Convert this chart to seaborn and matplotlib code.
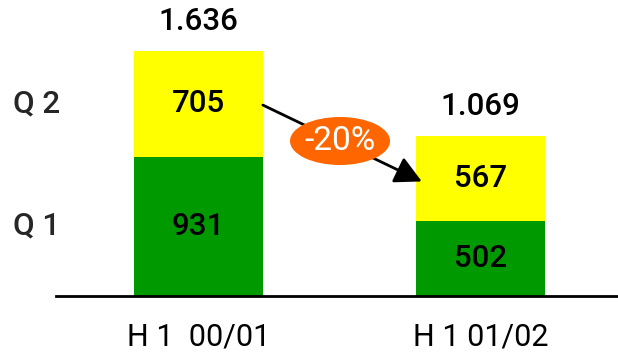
import matplotlib
matplotlib.use("Agg")
import matplotlib.pyplot as plt
from matplotlib.patches import Ellipse
import seaborn as sns
import pandas as pd

categories = ["H 1  00/01", "H 1 01/02"]
q1 = [931, 502]
q2 = [705, 567]
series_labels = ["Q 1", "Q 2"]
change_label = "-20%"

totals = [a + b for a, b in zip(q1, q2)]
df = pd.DataFrame({"period": categories, "q1": q1, "q2": q2, "total": totals})

sns.set_theme(style="white")
plt.rcParams["font.family"] = ["Roboto", "DejaVu Sans"]

YELLOW = "#FFFF00"
GREEN = "#009900"
ORANGE = "#FF6600"

fig = plt.figure(figsize=(6.18, 3.52), dpi=100)
ax = fig.add_axes([56 / 618, (352 - 296) / 352, 562 / 618, 296 / 352])

bw = 0.457
sns.barplot(data=df, x="period", y="total", color=YELLOW, saturation=1,
            width=bw, linewidth=0, ax=ax)
sns.barplot(data=df, x="period", y="q1", color=GREEN, saturation=1,
            width=bw, linewidth=0, ax=ax)

scale = 245 / 1636.0
ax.set_xlim(-0.505, 1.4876)
ax.set_ylim(0, 296 / scale)

for s in ["top", "right", "left"]:
    ax.spines[s].set_visible(False)
ax.spines["bottom"].set_linewidth(2)
ax.spines["bottom"].set_color("black")
ax.set_yticks([])
ax.set_xlabel("")
ax.set_ylabel("")
ax.tick_params(axis="x", length=0, pad=19, labelsize=22, colors="black")

fs = 22.5
wt = "medium"
for i, (a, b, t) in enumerate(zip(q1, q2, totals)):
    ax.text(i, a / 2, f"{a}", ha="center", va="center", fontsize=fs,
            fontweight=wt, color="black")
    ax.text(i, a + b / 2, f"{b}", ha="center", va="center", fontsize=fs,
            fontweight=wt, color="black")
    ax.annotate(f"{t:,}".replace(",", "."), xy=(i, t), xytext=(0, 21),
                textcoords="offset points", ha="center", va="center",
                fontsize=fs, fontweight=wt, color="black",
                annotation_clip=False)

# Q labels aligned with first bar's segments
ax.text(-0.573, q1[0] / 2, series_labels[0], ha="center", va="center",
        fontsize=fs, fontweight=wt, clip_on=False)
ax.text(-0.573, q1[0] + q2[0] / 2, series_labels[1], ha="center", va="center",
        fontsize=fs, fontweight=wt, clip_on=False)

# arrow from bar 1 to bar 2
ax.annotate("", xy=(0.792, 765), xytext=(bw / 2, 1275),
            arrowprops=dict(arrowstyle="-|>,head_length=1.35,head_width=0.7",
                            color="black", lw=2, shrinkA=0, shrinkB=0),
            annotation_clip=False)

ell = Ellipse((0.502, 1035), width=100 / 282, height=48 / scale,
              facecolor=ORANGE, edgecolor="none", zorder=5)
ax.add_patch(ell)
ax.text(0.502, 1035, change_label, ha="center", va="center", fontsize=24,
        color="white", zorder=6)

fig.savefig("out.png", dpi=100)
